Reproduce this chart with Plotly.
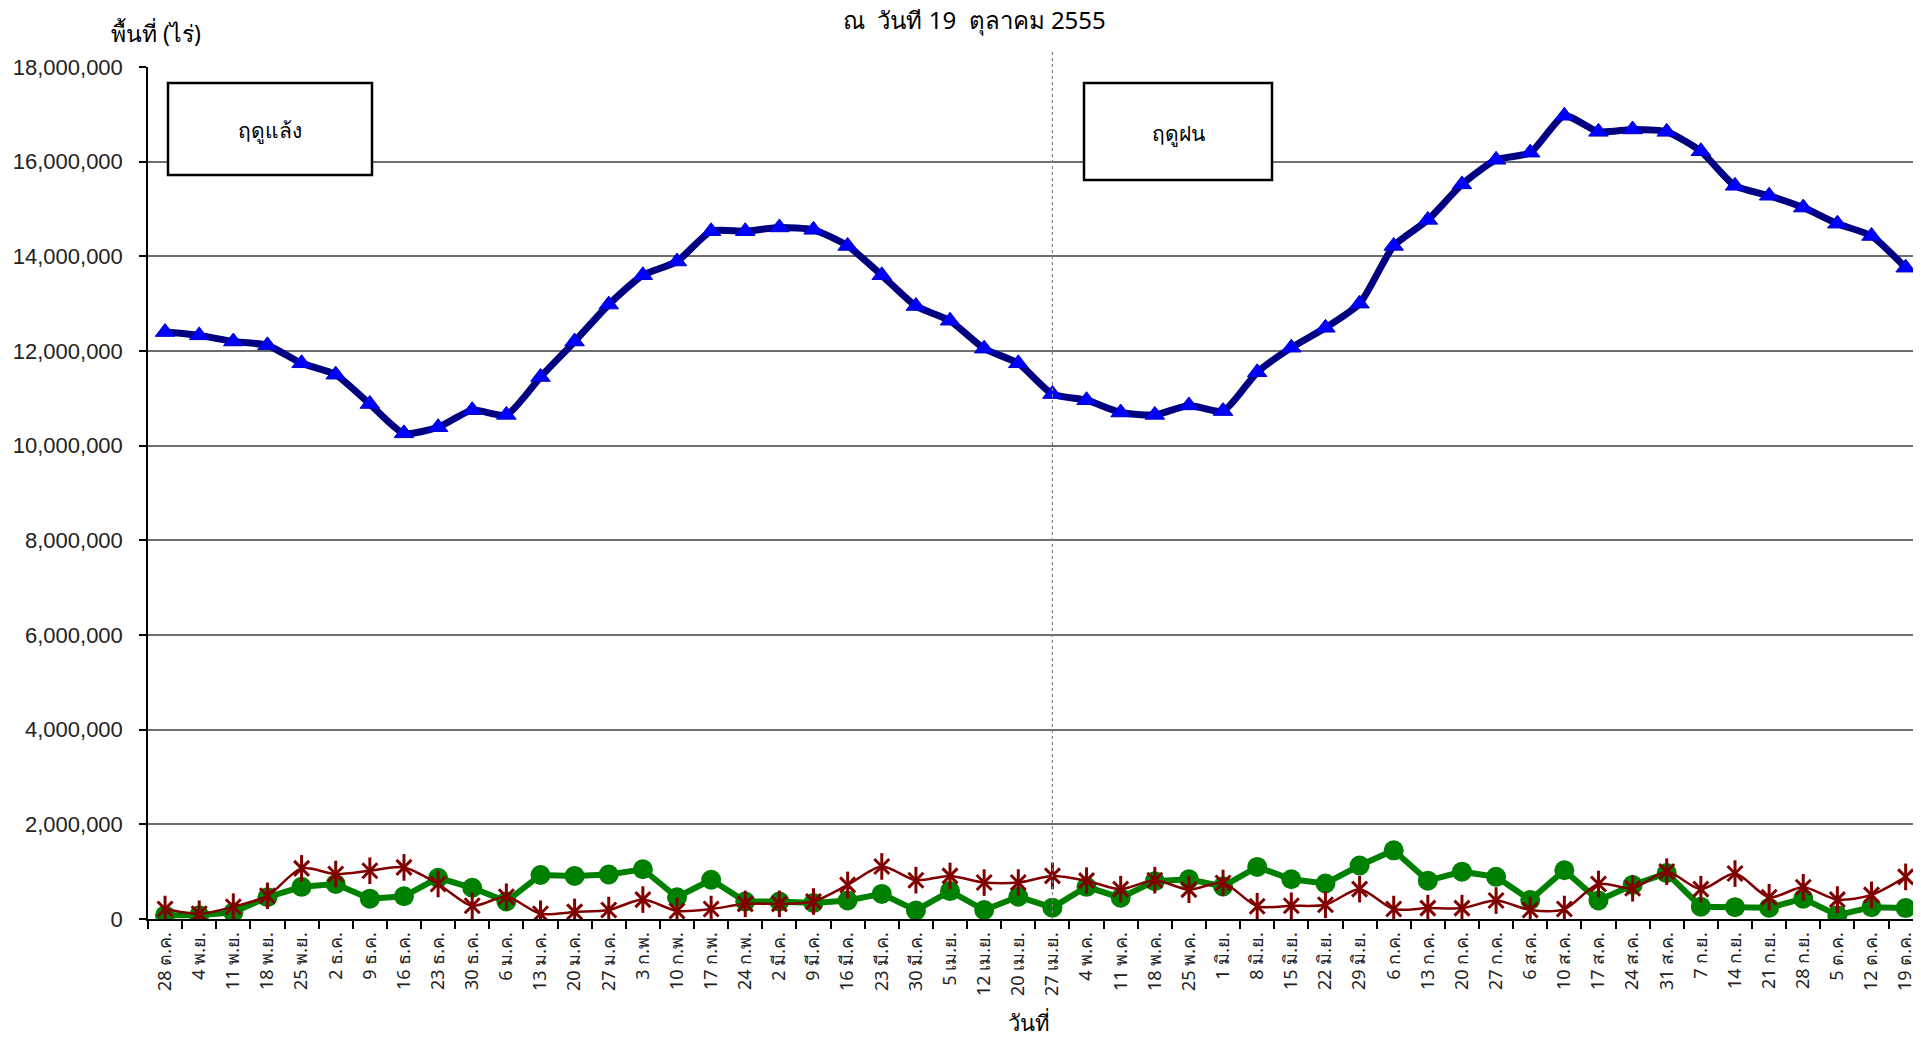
import plotly.graph_objects as go

dates = ["28 ต.ค.", "4 พ.ย.", "11 พ.ย.", "18 พ.ย.", "25 พ.ย.", "2 ธ.ค.", "9 ธ.ค.", "16 ธ.ค.",
         "23 ธ.ค.", "30 ธ.ค.", "6 ม.ค.", "13 ม.ค.", "20 ม.ค.", "27 ม.ค.", "3 ก.พ.", "10 ก.พ.",
         "17 ก.พ.", "24 ก.พ.", "2 มี.ค.", "9 มี.ค.", "16 มี.ค.", "23 มี.ค.", "30 มี.ค.", "5 เม.ย.",
         "12 เม.ย.", "20 เม.ย.", "27 เม.ย.", "4 พ.ค.", "11 พ.ค.", "18 พ.ค.", "25 พ.ค.", "1 มิ.ย.",
         "8 มิ.ย.", "15 มิ.ย.", "22 มิ.ย.", "29 มิ.ย.", "6 ก.ค.", "13 ก.ค.", "20 ก.ค.", "27 ก.ค.",
         "6 ส.ค.", "10 ส.ค.", "17 ส.ค.", "24 ส.ค.", "31 ส.ค.", "7 ก.ย.", "14 ก.ย.", "21 ก.ย.",
         "28 ก.ย.", "5 ต.ค.", "12 ต.ค.", "19 ต.ค."]

total_area = [12.40, 12.33, 12.20, 12.12, 11.74, 11.50, 10.88, 10.26, 10.39, 10.75, 10.65, 11.45,
              12.20, 12.98, 13.60, 13.89, 14.53, 14.53, 14.61, 14.56, 14.22, 13.60, 12.95, 12.64,
              12.05, 11.74, 11.09, 10.96, 10.70, 10.65, 10.85, 10.73, 11.55, 12.07, 12.49, 13.00,
              14.22, 14.77, 15.52, 16.04, 16.19, 16.97, 16.63, 16.68, 16.63, 16.22, 15.49, 15.28,
              15.03, 14.69, 14.43, 13.76]

green_area = [0.08, 0.08, 0.14, 0.46, 0.68, 0.74, 0.43, 0.48, 0.87, 0.66, 0.37, 0.93,
              0.91, 0.94, 1.05, 0.46, 0.83, 0.37, 0.37, 0.34, 0.39, 0.53, 0.18, 0.59,
              0.19, 0.47, 0.24, 0.68, 0.45, 0.80, 0.84, 0.69, 1.10, 0.84, 0.75, 1.13,
              1.45, 0.81, 1.00, 0.89, 0.40, 1.03, 0.39, 0.72, 0.97, 0.26, 0.25, 0.24,
              0.43, 0.08, 0.25, 0.23]

red_area = [0.21, 0.11, 0.26, 0.49, 1.07, 0.95, 1.02, 1.09, 0.74, 0.28, 0.47, 0.11,
            0.15, 0.19, 0.41, 0.17, 0.21, 0.32, 0.32, 0.37, 0.72, 1.11, 0.82, 0.91,
            0.77, 0.77, 0.91, 0.81, 0.63, 0.82, 0.62, 0.76, 0.27, 0.28, 0.30, 0.63,
            0.21, 0.23, 0.23, 0.39, 0.19, 0.21, 0.74, 0.65, 1.00, 0.63, 0.96, 0.46,
            0.67, 0.41, 0.51, 0.89]

y_ticks = [0, 2e6, 4e6, 6e6, 8e6, 10e6, 12e6, 14e6, 16e6, 18e6]

M = 1_000_000
total_v = [v * M for v in total_area]
green_v = [v * M for v in green_area]
red_v = [v * M for v in red_area]

# page has an 8px body margin; figure coordinates = page coordinates - 8
OFF = 8
W, H = 1921 - OFF, 1040 - OFF
L, R, T, B = 148 - OFF, 0, 67 - OFF, 1040 - 919
PW, PH = W - L - R, H - T - B


def px(x):
    return (x - OFF - L) / PW


def py(y):
    return (H - B - (y - OFF)) / PH


THAI = "Tahoma, 'Noto Sans', 'DejaVu Sans', sans-serif"

fig = go.Figure()

fig.add_trace(go.Scatter(
    x=dates, y=total_v, mode="lines+markers",
    line=dict(color="#000080", width=7, shape="spline", smoothing=0.6),
    marker=dict(symbol="triangle-up", size=17, color="#0000FF",
                line=dict(color="#0000CC", width=1)),
    showlegend=False))

fig.add_trace(go.Scatter(
    x=dates, y=green_v, mode="lines+markers",
    line=dict(color="#008000", width=6),
    marker=dict(symbol="circle", size=20, color="#008000"),
    showlegend=False))

fig.add_trace(go.Scatter(
    x=dates, y=red_v, mode="lines+markers",
    line=dict(color="#800000", width=2.5, shape="spline", smoothing=0.8),
    marker=dict(symbol="x-thin-open", size=15, color="#800000",
                line=dict(color="#800000", width=3)),
    showlegend=False))

fig.add_trace(go.Scatter(
    x=dates, y=red_v, mode="markers",
    marker=dict(symbol="line-ns-open", size=19, color="#800000",
                line=dict(color="#800000", width=3)),
    showlegend=False, hoverinfo="skip"))

shapes = [
    dict(type="line", xref="x", yref="paper", x0=26, x1=26, y0=0, y1=py(49),
         line=dict(color="#808080", width=1.2, dash="dot")),
    dict(type="rect", xref="paper", yref="paper", x0=px(168), x1=px(372), y0=py(175), y1=py(83),
         line=dict(color="black", width=2.5), fillcolor="white", layer="above"),
    dict(type="rect", xref="paper", yref="paper", x0=px(1084), x1=px(1272), y0=py(180), y1=py(83),
         line=dict(color="black", width=2.5), fillcolor="white", layer="above"),
]

annotations = [
    dict(text="ฤดูแล้ง", xref="paper", yref="paper", x=px(270), y=py(130),
         xanchor="center", yanchor="middle",
         showarrow=False, font=dict(size=21, color="black", family=THAI)),
    dict(text="ฤดูฝน", xref="paper", yref="paper", x=px(1178), y=py(133),
         xanchor="center", yanchor="middle",
         showarrow=False, font=dict(size=21, color="black", family=THAI)),
    dict(text="พื้นที่ (ไร่)", xref="paper", yref="paper", x=px(156), y=py(33),
         xanchor="center", yanchor="middle",
         showarrow=False, font=dict(size=23, color="black", family=THAI)),
    dict(text="ณ  วันที่ 19  ตุลาคม 2555", xref="paper", yref="paper", x=px(974), y=py(19),
         xanchor="center", yanchor="middle",
         showarrow=False, font=dict(size=24, color="black", family=THAI)),
    dict(text="วันที่", xref="paper", yref="paper", x=px(1029), y=py(1022),
         xanchor="center", yanchor="middle",
         showarrow=False, font=dict(size=22, color="black", family=THAI)),
]

fig.update_layout(
    width=W, height=H,
    margin=dict(l=L, r=R, t=T, b=B, pad=0),
    paper_bgcolor="white", plot_bgcolor="white",
    shapes=shapes, annotations=annotations,
    xaxis=dict(type="category", range=[-0.5, 51.45], tickson="boundaries",
               ticks="outside", ticklen=8, tickcolor="black", tickwidth=1.5,
               showline=True, linecolor="black", linewidth=2, showgrid=False,
               tickangle=-90, ticklabelstandoff=4,
               tickfont=dict(size=18, color="#222", family=THAI)),
    yaxis=dict(range=[0, 18e6], tickvals=y_ticks, tickformat=",d",
               ticks="outside", ticklen=7, tickcolor="black", tickwidth=1.5,
               showline=True, linecolor="black", linewidth=1.5,
               showgrid=True, gridcolor="#6e6e6e", gridwidth=1.5, zeroline=False,
               ticklabelstandoff=12,
               tickfont=dict(size=22, color="#222", family="'Liberation Sans', Arial, sans-serif")),
)

fig.write_html("out.html")
